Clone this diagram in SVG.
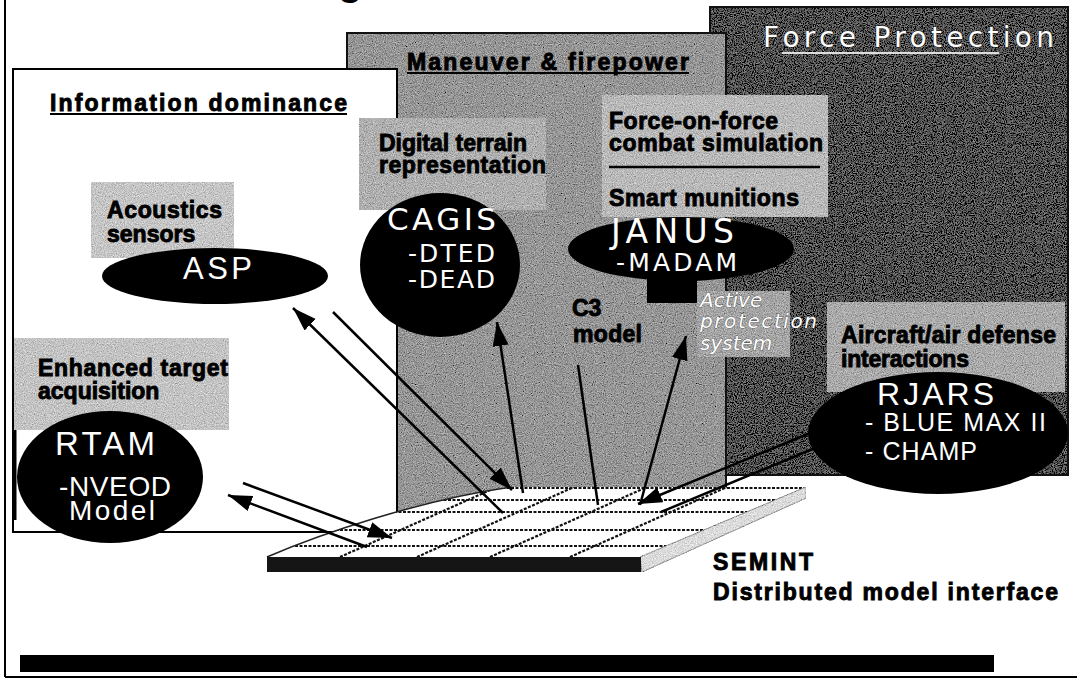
<svg xmlns="http://www.w3.org/2000/svg" width="1077" height="679" viewBox="0 0 1077 679">
<defs>
<style>
.lbl{font-family:"Liberation Sans",Arial,sans-serif;font-weight:bold;font-size:23px;fill:#000;stroke:#000;stroke-width:0.9}
.wt{font-family:"Liberation Sans",Arial,sans-serif;fill:#fff}
.dv{font-family:"DejaVu Sans",Verdana,sans-serif;fill:#fff}
.it{font-family:"DejaVu Sans",Verdana,sans-serif;font-style:italic;font-size:20px;fill:#fff;stroke:#333;stroke-width:0.6;paint-order:stroke}
.conn{stroke:#000;stroke-width:2.5;fill:none}
.grid{stroke:#111;stroke-width:2.2;stroke-dasharray:3 1.5;fill:none}
.ell{fill:#000}
.gr{filter:url(#grain)}
</style>
<filter id="grain" x="0" y="0" width="100%" height="100%">
<feTurbulence type="fractalNoise" baseFrequency="0.9" numOctaves="2" seed="4" result="noise"/>
<feColorMatrix in="noise" type="matrix" values="0.33 0.33 0.33 0 0 0.33 0.33 0.33 0 0 0.33 0.33 0.33 0 0 0 0 0 0 1" result="gn"/>
<feComposite in="SourceGraphic" in2="gn" operator="arithmetic" k1="0" k2="1" k3="1.2" k4="-0.6" result="mix"/>
<feComposite in="mix" in2="SourceGraphic" operator="in"/>
</filter>
<marker id="ah" markerUnits="userSpaceOnUse" markerWidth="26" markerHeight="18" refX="24" refY="8" orient="auto">
<path d="M0,0 L24,8 L0,16 Z" fill="#000"/>
</marker>
<clipPath id="slabclip"><path d="M267,557 C320,534 420,500 512,487 L806,487 L640,557 Z"/></clipPath>
</defs>
<rect width="1077" height="679" fill="#fff"/>
<!-- frame -->
<line x1="5" y1="0" x2="5" y2="677" stroke="#000" stroke-width="2"/>
<line x1="5" y1="677" x2="1077" y2="677" stroke="#000" stroke-width="2"/>
<text x="338" y="-5" style="font-family:'Liberation Sans',Arial,sans-serif;font-weight:bold;font-size:40px">g</text>
<rect x="20" y="655" width="974" height="17" fill="#000"/>

<!-- Force Protection panel -->
<g id="force-protection">
<rect x="710" y="7" width="358" height="468" fill="#525252" class="gr"/>
<rect x="710" y="7" width="358" height="468" fill="none" stroke="#111" stroke-width="2"/>
<text x="763" y="47" class="dv" font-size="28" textLength="291" stroke="#222" stroke-width="0.8" paint-order="stroke">Force Protection</text>
<line x1="782" y1="53" x2="999" y2="53" stroke="#ddd" stroke-width="2"/>
</g>

<!-- Maneuver & firepower panel -->
<g id="maneuver-firepower">
<rect x="347" y="33" width="379" height="487" fill="#979797" class="gr"/>
<rect x="347" y="33" width="379" height="487" fill="none" stroke="#111" stroke-width="2"/>
<text x="407" y="70" class="lbl" font-size="27" textLength="282">Maneuver &amp; firepower</text>
<line x1="407" y1="73" x2="689" y2="73" stroke="#000" stroke-width="2"/>
</g>

<!-- Information dominance panel -->
<g id="information-dominance">
<rect x="13" y="69" width="384" height="463" fill="#fff" stroke="#000" stroke-width="2"/>
<line x1="15" y1="420" x2="15" y2="520" stroke="#000" stroke-width="3"/>
<text x="50" y="111" class="lbl" font-size="27" textLength="297">Information dominance</text>
<line x1="50" y1="114" x2="347" y2="114" stroke="#000" stroke-width="2"/>
</g>

<!-- sub label boxes -->
<g id="digital-terrain">
<rect x="359" y="118" width="187" height="92" fill="#b0b0b0" class="gr"/>
<text x="379" y="151" class="lbl" font-size="23" textLength="148">Digital terrain</text>
<text x="379" y="173" class="lbl" font-size="23" textLength="167">representation</text>
</g>
<g id="force-on-force">
<rect x="602" y="95" width="226" height="122" fill="#bababa" class="gr"/>
<text x="609" y="129" class="lbl" font-size="23.5" textLength="169">Force-on-force</text>
<text x="609" y="151" class="lbl" font-size="23.5" textLength="214">combat simulation</text>
<line x1="609" y1="167" x2="820" y2="167" stroke="#000" stroke-width="2.5"/>
<text x="609" y="206" class="lbl" font-size="24" textLength="190">Smart munitions</text>
</g>
<g id="acoustics">
<rect x="91" y="182" width="143" height="76" fill="#c6c6c6" class="gr"/>
<text x="107" y="218" class="lbl" font-size="24" textLength="115">Acoustics</text>
<text x="107" y="242" class="lbl" font-size="24">sensors</text>
</g>
<g id="enhanced-target">
<rect x="14" y="338" width="215" height="92" fill="#c4c4c4" class="gr"/>
<text x="38" y="376" class="lbl" font-size="24" textLength="190">Enhanced target</text>
<text x="38" y="399" class="lbl" font-size="24">acquisition</text>
</g>
<g id="c3-model">
<text x="572" y="316" class="lbl" font-size="23">C3</text>
<text x="573" y="342" class="lbl" font-size="23" textLength="69">model</text>
</g>
<g id="active-protection">
<rect x="697" y="291" width="93" height="66" fill="#a6a6a6" class="gr"/>
<text x="700" y="307" class="it">Active</text>
<text x="700" y="328" class="it" textLength="117">protection</text>
<text x="700" y="350" class="it">system</text>
</g>
<g id="aircraft-air-defense">
<rect x="827" y="302" width="238" height="90" fill="#ababab" class="gr"/>
<text x="841" y="343" class="lbl" font-size="23.5" textLength="215">Aircraft/air defense</text>
<text x="841" y="367" class="lbl" font-size="23" textLength="128">interactions</text>
</g>

<!-- SEMINT grid slab -->
<g id="semint">
<path d="M267,557 C320,534 420,500 512,487 L806,487 L640,557 Z" fill="#fff"/>
<g clip-path="url(#slabclip)">
<line class="grid" x1="250" y1="488" x2="830" y2="488"/>
<line class="grid" x1="250" y1="500" x2="830" y2="500"/>
<line class="grid" x1="250" y1="512" x2="830" y2="512"/>
<line class="grid" x1="250" y1="530" x2="830" y2="530"/>
<line class="grid" x1="250" y1="546" x2="830" y2="546"/>
<line class="grid" x1="340" y1="557" x2="497" y2="487"/>
<line class="grid" x1="417" y1="557" x2="574" y2="487"/>
<line class="grid" x1="490" y1="557" x2="647" y2="487"/>
<line class="grid" x1="570" y1="557" x2="727" y2="487"/>
</g>
<path d="M267,557 C320,534 420,500 512,487" stroke="#222" stroke-width="1.5" fill="none"/>
<path d="M640,557 L806,487 L806,498 L642,572 Z" fill="#dcdcdc" stroke="#999" stroke-width="1" class="gr"/>
<rect x="267" y="557" width="374" height="15" fill="#151515"/>
<text x="713" y="570" class="lbl" font-size="26.5" textLength="100">SEMINT</text>
<text x="713" y="600" class="lbl" font-size="26.5" textLength="345">Distributed model interface</text>
</g>

<!-- connectors -->
<g id="connectors">
<line class="conn" x1="503" y1="513" x2="293" y2="308" marker-end="url(#ah)"/>
<line class="conn" x1="333" y1="312" x2="512" y2="490" marker-end="url(#ah)"/>
<line class="conn" x1="523" y1="493" x2="497" y2="322" marker-end="url(#ah)"/>
<line class="conn" x1="578" y1="365" x2="598" y2="505"/>
<line class="conn" x1="640" y1="505" x2="686" y2="336" marker-end="url(#ah)"/>
<line class="conn" x1="810" y1="433" x2="638" y2="504" marker-end="url(#ah)"/>
<line class="conn" x1="815" y1="448" x2="661" y2="512"/>
<line class="conn" x1="367" y1="547" x2="228" y2="495" marker-end="url(#ah)"/>
<line class="conn" x1="243" y1="483" x2="392" y2="538" marker-end="url(#ah)"/>
</g>

<!-- ellipse nodes -->
<g id="asp">
<ellipse class="ell" cx="215" cy="276" rx="113" ry="28"/>
<text x="183" y="279" class="wt" font-size="31" textLength="69">ASP</text>
</g>
<g id="cagis">
<ellipse class="ell" cx="440" cy="265" rx="80" ry="72"/>
<text x="387" y="230" class="dv" font-size="31" textLength="109">CAGIS</text>
<text x="408" y="262" class="dv" font-size="25" textLength="87">-DTED</text>
<text x="408" y="288" class="dv" font-size="25" textLength="87">-DEAD</text>
</g>
<g id="janus">
<ellipse class="ell" cx="681" cy="249" rx="113" ry="32"/>
<rect x="647" y="272" width="50" height="31" fill="#000"/>
<text x="611" y="243" class="dv" font-size="33" textLength="123">JANUS</text>
<text x="616" y="271" class="dv" font-size="25" textLength="121">-MADAM</text>
</g>
<g id="rtam">
<ellipse class="ell" cx="110" cy="477" rx="93" ry="66"/>
<text x="55" y="455" class="wt" font-size="33" textLength="100">RTAM</text>
<text x="59" y="496" class="wt" font-size="28" textLength="112">-NVEOD</text>
<text x="69" y="520" class="wt" font-size="28" textLength="86">Model</text>
</g>
<g id="rjars">
<ellipse class="ell" cx="938" cy="433" rx="130" ry="61"/>
<text x="877" y="405" class="wt" font-size="32" textLength="117">RJARS</text>
<text x="865" y="431" class="wt" font-size="25" textLength="181">- BLUE MAX II</text>
<text x="865" y="460" class="wt" font-size="25" textLength="112">- CHAMP</text>
</g>
</svg>
